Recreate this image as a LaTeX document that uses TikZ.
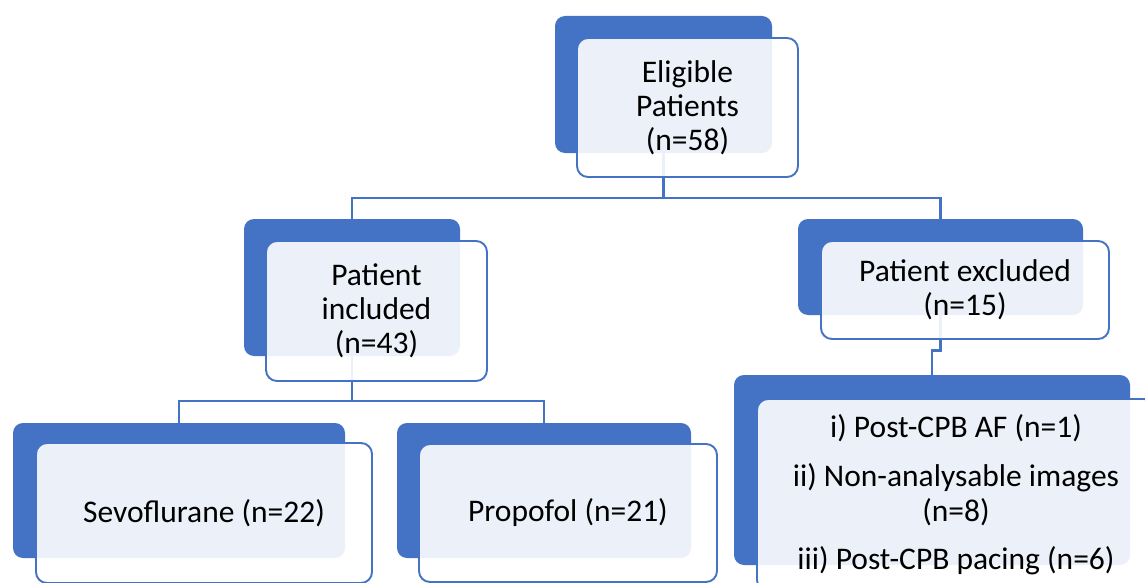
\documentclass[tikz,border=0pt]{standalone}
\usepackage{fontspec}
\setmainfont{Carlito}
\usetikzlibrary{backgrounds}
\definecolor{ofblue}{HTML}{4472C4}
\begin{document}
\begin{tikzpicture}[x=1pt,y=-1pt,
 backbox/.style={rectangle,rounded corners=10pt,fill=ofblue,inner sep=0pt},
 frontbox/.style={rectangle,rounded corners=11pt,draw=ofblue,line width=1.9pt,fill=white,fill opacity=0.9,text opacity=1,inner sep=0pt,align=center,font=\fontsize{31.5}{34}\selectfont},
 conn/.style={draw=ofblue,line width=2.6pt}]
\useasboundingbox (0,0) rectangle (1145,583);
% top
\node[backbox,minimum width=217pt,minimum height=137pt] (topB) at (663.5,84.5) {};
\node[frontbox,minimum width=221pt,minimum height=139pt] (top) at (687.5,107.5) {Eligible\\Patients\\(n=58)};
% included
\node[backbox,minimum width=216pt,minimum height=137pt] (leftB) at (352,287.5) {};
\node[frontbox,minimum width=221pt,minimum height=140pt] (left) at (376.5,311) {Patient\\included\\(n=43)};
% excluded
\node[backbox,minimum width=285pt,minimum height=96pt] (rightB) at (940.5,267) {};
\node[frontbox,minimum width=288pt,minimum height=98pt] (right) at (965,290) {Patient excluded\\(n=15)};
% sevoflurane
\node[backbox,minimum width=332pt,minimum height=135pt] (sevB) at (179,490.5) {};
\node[frontbox,minimum width=336pt,minimum height=140pt] (sev) at (204,513) {Sevoflurane (n=22)};
% propofol
\node[backbox,minimum width=294pt,minimum height=135pt] (propB) at (544,490.5) {};
\node[frontbox,minimum width=298pt,minimum height=138pt] (prop) at (568,513) {Propofol (n=21)};
% reasons
\node[backbox,minimum width=396pt,minimum height=190pt] (brB) at (932,470) {};
\node[frontbox,minimum width=398pt,minimum height=192pt] (br) at (956,495) {i) Post-CPB AF (n=1)\\[15pt]ii) Non-analysable images\\[1pt](n=8)\\[14pt]iii) Post-CPB pacing (n=6)};
\begin{scope}[on background layer]
\fill[white] (0,0) rectangle (1145,583);
\coordinate (h1) at (663.5,198);
\coordinate (h2) at (352,401);
\draw[conn] (topB.south) -- (h1);
\draw[conn] (leftB.north) |- (h1) -| (rightB.north);
\draw[conn] (leftB.south) -- (h2);
\draw[conn] (sevB.north) |- (h2) -| (propB.north);
\draw[conn] (rightB.south) -- ++(0,35) -| (brB.north);
\end{scope}
\end{tikzpicture}
\end{document}
